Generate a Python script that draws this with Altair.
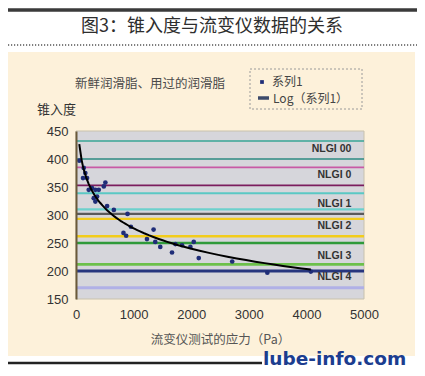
import altair as alt
import pandas as pd

# ---- data ----
stress_pa = [57, 134, 162, 122, 192, 221, 279, 336, 395, 483, 510, 308, 366, 336,
             540, 657, 894, 824, 871, 953, 1232, 1347, 1376, 1463, 1667, 1725,
             1841, 1986, 2044, 2131, 2712, 3322, 4077]
penetration = [397, 384, 375, 366, 366, 345, 348, 345, 345, 351, 358, 330, 333, 324,
               316, 309, 302, 268, 263, 279, 257, 274, 252, 243, 233, 248,
               246, 243, 252, 223, 217, 197, 199]

bound_values = [432, 400, 385, 353, 339, 310, 302, 293, 262, 250, 212, 200, 170]
bound_ids = [f"b{i:02d}" for i in range(len(bound_values))]

nlgi_labels = ["NLGI 00", "NLGI 0", "NLGI 1", "NLGI 2", "NLGI 3", "NLGI 4"]
nlgi_label_pen = [418, 372, 320, 280, 227, 189]
nlgi_label_stress = [4780] * len(nlgi_labels)

x_ticks = [0, 1000, 2000, 3000, 4000, 5000]
y_ticks = [150, 200, 250, 300, 350, 400, 450]

# ---- styles ----
bound_colors = ["#39a596", "#2d8a82", "#c85aa5", "#7b1d5e", "#5ac8c4", "#6dd0cc",
                "#5a5a5a", "#f2cc1c", "#f2cc1c", "#2f9a3a", "#6cc04a", "#27367e",
                "#b0b0e6"]
bound_widths = [1.5, 3, 2, 3, 1.5, 1.5, 1.5, 3, 3, 3, 1.5, 2.5, 1.5]

CJK = "Noto Sans CJK SC"
CREAM = "#fdf1da"

pts = pd.DataFrame({"stress": stress_pa, "pen": penetration})
bounds = pd.DataFrame({"pen": bound_values, "id": bound_ids})
labels = pd.DataFrame({"stress": nlgi_label_stress, "pen": nlgi_label_pen, "label": nlgi_labels})
one = pd.DataFrame({"a": [0]})

xs = alt.Scale(domain=[0, 5000], nice=False, zero=False)
ys = alt.Scale(domain=[150, 450], nice=False, zero=False)

xaxis = alt.Axis(values=x_ticks, format="d", tickSize=0, domain=False, grid=False,
                 labelFont="Liberation Sans", labelFontSize=13, labelColor="#333",
                 labelPadding=9, labelFlush=False, labelOverlap=False,
                 title="流变仪测试的应力（Pa）", titleFont=CJK, titleFontSize=12.5,
                 titleFontWeight="normal", titleColor="#555", titlePadding=12, zindex=1)
yaxis = alt.Axis(values=y_ticks, format="d", tickSize=0, domain=True,
                 domainColor="#6b5a3a", domainWidth=2, grid=False,
                 labelFont="Liberation Sans", labelFontSize=13, labelColor="#333",
                 labelPadding=8, labelFlush=False, labelOverlap=False, title=None, zindex=1)

X = lambda: alt.X("stress:Q", scale=xs, axis=xaxis)
Y = lambda: alt.Y("pen:Q", scale=ys, axis=yaxis)

base = alt.Chart(one)

cream = base.mark_rect(color=CREAM).encode(
    x=alt.value(-68), x2=alt.value(339), y=alt.value(-79), y2=alt.value(225))
plotbg = base.mark_rect(color="#d6d6db", stroke="#c8c2ad", strokeWidth=1).encode(
    x=alt.value(0), x2=alt.value(288), y=alt.value(0), y2=alt.value(168))

top_bar = base.mark_rule(color="#3a3a3a", strokeWidth=3.5).encode(
    x=alt.value(-68), x2=alt.value(341), y=alt.value(-121))
title = base.mark_text(font=CJK, fontSize=18, color="#2e2e2e", align="center",
                       baseline="middle").encode(
    x=alt.value(136), y=alt.value(-104), text=alt.value("图3：锥入度与流变仪数据的关系"))
dotted = base.mark_rule(color="#555", strokeWidth=1.5, strokeDash=[1.2, 1.8]).encode(
    x=alt.value(-68), x2=alt.value(341), y=alt.value(-86))

inner_title = base.mark_text(font=CJK, fontSize=12.5, color="#4a4a4a", align="left",
                             baseline="middle").encode(
    x=alt.value(-1), y=alt.value(-47), text=alt.value("新鲜润滑脂、用过的润滑脂"))
y_title = base.mark_text(font=CJK, fontSize=13, color="#333", align="left",
                         baseline="middle").encode(
    x=alt.value(-39), y=alt.value(-21), text=alt.value("锥入度"))

legend_box = base.mark_rect(fillOpacity=0, stroke="#9a9a9a", strokeDash=[2, 2],
                            strokeWidth=1).encode(
    x=alt.value(174), x2=alt.value(286), y=alt.value(-62), y2=alt.value(-22))
legend_sq = base.mark_square(size=14, color="#1f2d78", opacity=1).encode(
    x=alt.value(186), y=alt.value(-49))
legend_line = base.mark_rule(color="#3c4a6a", strokeWidth=3.5).encode(
    x=alt.value(182), x2=alt.value(193), y=alt.value(-33))
legend_t1 = base.mark_text(font=CJK, fontSize=12, color="#444", align="left",
                           baseline="middle").encode(
    x=alt.value(196), y=alt.value(-49), text=alt.value("系列1"))
legend_t2 = base.mark_text(font=CJK, fontSize=12, color="#444", align="left",
                           baseline="middle").encode(
    x=alt.value(197), y=alt.value(-32), text=alt.value("Log（系列1）"))

bottom_line = base.mark_rule(color="#222", strokeWidth=2.5).encode(
    x=alt.value(-68), x2=alt.value(186), y=alt.value(232))
brand = base.mark_text(font="DejaVu Sans", fontWeight="bold", fontSize=18.5,
                       color="#1c3d8f", align="left", baseline="alphabetic").encode(
    x=alt.value(187), y=alt.value(234), text=alt.value("lube-info.com"))

rules = alt.Chart(bounds).mark_rule().encode(
    y=Y(),
    color=alt.Color("id:N", scale=alt.Scale(domain=bound_ids, range=bound_colors), legend=None),
    strokeWidth=alt.StrokeWidth("id:N", scale=alt.Scale(domain=bound_ids, range=bound_widths),
                                legend=None))

nlgi_text = alt.Chart(labels).mark_text(font="Liberation Sans", fontWeight="bold",
                                        fontSize=10.5, color="#333", align="right",
                                        baseline="middle").encode(
    x=X(), y=Y(), text="label:N")

points = alt.Chart(pts).mark_circle(size=22, color="#1f2d78", opacity=1).encode(x=X(), y=Y())

trend = alt.Chart(pts).transform_regression("stress", "pen", method="log").mark_line(
    color="black", strokeWidth=2).encode(x=X(), y=Y())

chart = alt.layer(
    cream, plotbg, rules, nlgi_text, points, trend,
    top_bar, title, dotted, inner_title, y_title,
    legend_box, legend_sq, legend_line, legend_t1, legend_t2,
    bottom_line, brand
).properties(
    width=288, height=168,
    padding={"left": 68, "top": 123, "right": 53, "bottom": 69},
    autosize=alt.AutoSizeParams(type="none"),
).configure(background="white").configure_view(strokeWidth=0)

chart.save("out.html", embed_options={"renderer": "svg", "actions": False})
